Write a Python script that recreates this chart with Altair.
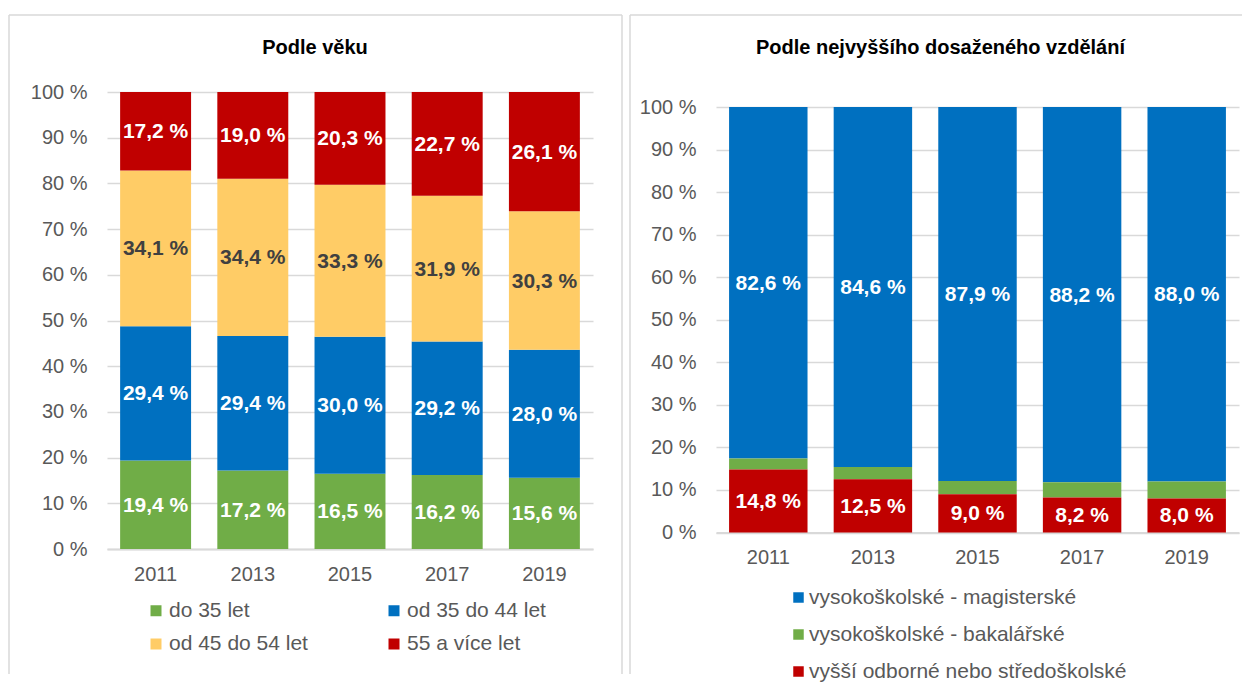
import altair as alt
import pandas as pd

# ---------------- data ----------------
years = ["2011", "2013", "2015", "2017", "2019"]

age_groups = ["do 35 let", "od 35 do 44 let", "od 45 do 54 let", "55 a více let"]
age_under35 = [19.4, 17.2, 16.5, 16.2, 15.6]
age_35_44 = [29.4, 29.4, 30.0, 29.2, 28.0]
age_45_54 = [34.1, 34.4, 33.3, 31.9, 30.3]
age_55plus = [17.2, 19.0, 20.3, 22.7, 26.1]
age_colors = ["#70AD47", "#0070C0", "#FFCC66", "#C00000"]

edu_groups = ["vysokoškolské - magisterské", "vysokoškolské - bakalářské",
              "vyšší odborné nebo středoškolské"]
edu_master = [82.6, 84.6, 87.9, 88.2, 88.0]
edu_bachelor = [2.6, 2.9, 3.1, 3.6, 4.0]
edu_secondary = [14.8, 12.5, 9.0, 8.2, 8.0]
edu_colors = ["#0070C0", "#70AD47", "#C00000"]

pct_ticks = [0, 10, 20, 30, 40, 50, 60, 70, 80, 90, 100]

FONT = "Liberation Sans"
GRID = "#D9D9D9"
TXT = "#595959"

# ---------------- tables ----------------
rows = []
for series, grp, order in zip([age_under35, age_35_44, age_45_54, age_55plus], age_groups, [0, 1, 2, 3]):
    for y, v in zip(years, series):
        rows.append({"year": y, "grp": grp, "value": v, "order": order, "labelled": True})
df_age = pd.DataFrame(rows)

rows = []
for series, grp, order, lab in zip([edu_master, edu_bachelor, edu_secondary], edu_groups, [2, 1, 0],
                                   [True, False, True]):
    for y, v in zip(years, series):
        rows.append({"year": y, "grp": grp, "value": v, "order": order, "labelled": lab})
df_edu = pd.DataFrame(rows)

frame_df = pd.DataFrame({"k": [0]})


def panel(df, groups, colors, title, title_dx, width, height, ymax, pad_in, pad_out,
          x_label_pad, legend, frame):
    base = alt.Chart(df).transform_stack(
        stack="value", groupby=["year"], as_=["s0", "s1"], offset="normalize",
        sort=[alt.SortField(field="order", order="ascending")],
    ).transform_calculate(
        y0="datum.s0 * 100",
        y1="datum.s1 * 100",
        ymid="(datum.s0 + datum.s1) * 50",
        label="replace(format(datum.value, '.1f'), '.', ',') + ' %'",
    )
    x = alt.X("year:N", sort=years,
              scale=alt.Scale(paddingInner=pad_in, paddingOuter=pad_out),
              axis=alt.Axis(title=None, labelAngle=0, labelPadding=x_label_pad, domain=True,
                            domainColor=GRID, domainWidth=2, ticks=False, grid=False,
                            labelFontSize=20, labelColor=TXT, labelFont=FONT))
    bars = base.mark_bar().encode(
        x=x,
        y=alt.Y("y0:Q", scale=alt.Scale(domain=[0, ymax], nice=False, zero=True),
                axis=alt.Axis(title=None, values=pct_ticks, labelExpr="datum.value + ' %'",
                              domain=False, ticks=False, grid=True, gridColor=GRID, gridWidth=1.3,
                              labelPadding=20, labelFontSize=20, labelColor=TXT, labelFont=FONT)),
        y2="y1:Q",
        color=alt.Color("grp:N", scale=alt.Scale(domain=groups, range=colors), legend=legend),
    )
    labels = base.transform_filter("datum.labelled").mark_text(
        font=FONT, fontSize=21, fontWeight="bold", align="center", baseline="middle", dy=1
    ).encode(
        x=x,
        y=alt.Y("ymid:Q"),
        text="label:N",
        color=alt.condition("datum.grp == 'od 45 do 54 let'", alt.value("#404040"), alt.value("white")),
    )
    layers = [bars, labels]
    for spec in frame:
        layers.append(alt.Chart(frame_df).mark_rule(color=GRID, strokeWidth=1.5).encode(**spec))
    return alt.layer(*layers).properties(
        width=width, height=height,
        title=alt.TitleParams(text=title, fontSize=20, fontWeight="bold", color="black", font=FONT,
                              anchor="middle", dx=title_dx, offset=-44, frame="group"),
    )


left_legend = alt.Legend(title=None, orient="none", legendX=38.5, legendY=508, columns=2,
                         direction="horizontal",
                         columnPadding=75, rowPadding=11.5, symbolType="square", symbolSize=121,
                         symbolStrokeWidth=0, labelFontSize=21, labelColor=TXT, labelFont=FONT,
                         labelOffset=2.5, labelLimit=400)
right_legend = alt.Legend(title=None, orient="none", legendX=72, legendY=495, columns=1,
                          direction="vertical",
                          rowPadding=15, symbolType="square", symbolSize=110,
                          symbolStrokeWidth=0, labelFontSize=21, labelColor=TXT, labelFont=FONT,
                          labelOffset=0, labelLimit=500)

# frame edges (decoration) relative to each plot area
left_frame = [
    dict(x=alt.value(-98), y=alt.value(-77), y2=alt.value(582)),
    dict(x=alt.value(-98), x2=alt.value(515), y=alt.value(-77)),
    dict(x=alt.value(515), y=alt.value(-77), y2=alt.value(582)),
]
right_frame = [
    dict(x=alt.value(-86), y=alt.value(-77), y2=alt.value(582)),
    dict(x=alt.value(-86), x2=alt.value(526), y=alt.value(-77)),
]

left = panel(df_age, age_groups, age_colors, "Podle věku", -35, 486, 457, 100,
             0.27, 0.135, 15, left_legend, left_frame)
right = panel(df_edu, edu_groups, edu_colors, "Podle nejvyššího dosaženého vzdělání", -37,
              523, 440.5, 100 * 440.5 / 425.5, 0.25, 0.125, 15, right_legend, right_frame)

chart = alt.hconcat(left, right, spacing=123, bounds="flush").resolve_scale(
    color="independent", x="independent", y="independent"
).resolve_legend(color="independent").properties(
    padding={"left": 0, "top": 6, "right": 0, "bottom": 0}
).configure(font=FONT).configure_view(stroke=None)

chart.save("out.html", embed_options={"renderer": "svg", "actions": False})
